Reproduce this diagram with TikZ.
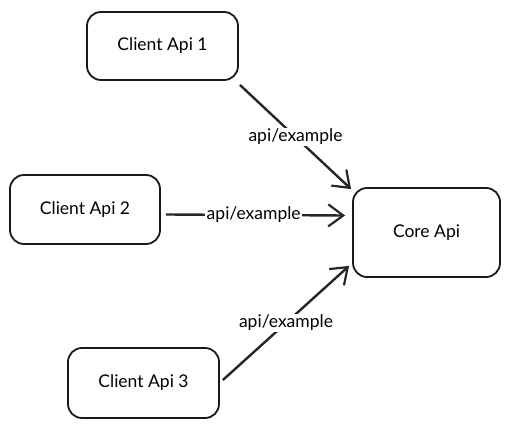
\documentclass[tikz,border=0pt]{standalone}
\usepackage{fontspec}
\setmainfont{Lato}
\usetikzlibrary{arrows.meta}
\begin{document}
\begin{tikzpicture}[x=1pt,y=-1pt,
  box/.style={draw=black!90,line width=1.8pt,rounded corners=14pt,fill=white,font=\fontsize{17.5}{20}\selectfont,inner sep=0pt},
  conn/.style={draw=black!85,line width=2.4pt,-{Straight Barb[length=15pt,width=22pt,line width=2.2pt]}},
  lbl/.style={fill=white,font=\fontsize{17.5}{20}\selectfont,inner sep=1.5pt}]
\useasboundingbox (0,0) rectangle (511,430);
\node[box,minimum width=151pt,minimum height=68pt] (b1) at (162.5,46) {Client Api 1};
\node[box,minimum width=150pt,minimum height=69pt] (b2) at (85,209.5) {Client Api 2};
\node[box,minimum width=147pt,minimum height=89pt] (core) at (426.5,232.5) {Core Api};
\node[box,minimum width=151pt,minimum height=70pt] (b3) at (143.5,383) {Client Api 3};
\draw[conn] ([shift={(1,4)}]b1.south east) -- node[lbl,pos=0.5] {api/example} ([shift={(-1,2)}]core.north west);
\draw[conn] ([shift={(5,5)}]b2.east) -- node[lbl,pos=0.49] {api/example} ([shift={(-7,-17)}]core.west);
\draw[conn] ([shift={(3,-3)}]b3.east) -- node[lbl,pos=0.5] {api/example} ([shift={(-3,-12)}]core.south west);
\end{tikzpicture}
\end{document}
